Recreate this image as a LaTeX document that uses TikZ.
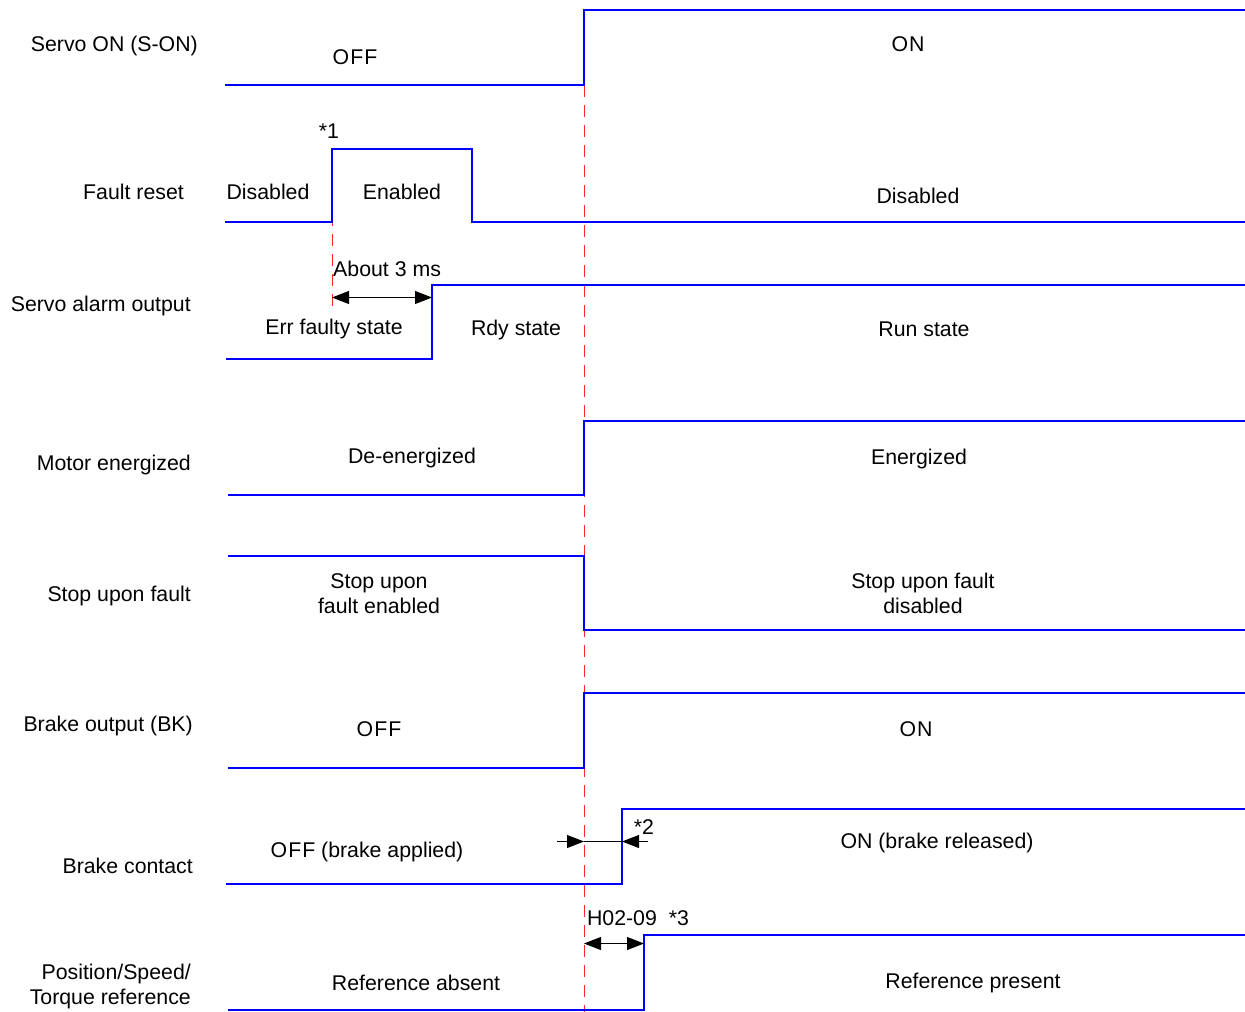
\documentclass[tikz,border=0pt]{standalone}
\usepackage{fontspec}
\setmainfont{Liberation Sans}
\usetikzlibrary{arrows.meta}
\definecolor{sig}{RGB}{0,0,255}
\definecolor{mark}{RGB}{255,40,40}
\begin{document}
\begin{tikzpicture}[x=1pt,y=-1pt,
  every node/.style={font=\fontsize{21.3}{25.5}\selectfont, inner sep=0pt, yshift=-0.5pt},
  wave/.style={draw=sig, line width=1.8pt, line join=miter},
  guide/.style={draw=mark, line width=0.9pt, dash pattern=on 12pt off 8pt},
  dim/.style={draw=black, line width=0.9pt},
  tip/.style={-{Triangle[length=17pt,width=13pt]}},
  tips/.style={{Triangle[length=17pt,width=13pt]}-{Triangle[length=17pt,width=13pt]}},
  lbl/.style={anchor=east, align=right},
  txt/.style={align=center}]
\useasboundingbox (0,0) rectangle (1245,1012);

% guide lines
\draw[guide] (584,85) -- (584,1012);
\draw[guide] (332,214) -- (332,312);

% row labels
\node[lbl] (l1) at (198,45) {Servo ON (S-ON)};
\node[lbl] (l2) at (184,191) {Fault reset};
\node[lbl] (l3) at (191,305) {Servo alarm output};
\node[lbl] (l4) at (191,464) {Motor energized};
\node[lbl] (l5) at (191,595) {Stop upon fault};
\node[lbl] (l6) at (193,725) {Brake output (BK)};
\node[lbl] (l7) at (193,865) {Brake contact};
\node[lbl, align=right] (l8) at (191,986) {Position/Speed/\\Torque reference};

% 1 Servo ON
\draw[wave] (225,85) -- (584,85) -- (584,10) -- (1245,10);
\node[txt] (t1a) at (355,57) {O\kern1ptF\kern1ptF};
\node[txt] (t1b) at (908,44) {O\kern1ptN};

% 2 Fault reset
\draw[wave] (225,222) -- (332,222) -- (332,149) -- (472,149) -- (472,222) -- (1245,222);
\node[txt] (s1) at (329,131) {*1};
\node[txt] (t2a) at (268,191) {Disabled};
\node[txt] (t2b) at (402,191) {Enabled};
\node[txt] (t2c) at (918,195) {Disabled};

% 3 Servo alarm
\draw[wave] (226,359) -- (432,359) -- (432,285) -- (1245,285);
\node[anchor=west] (t3d) at (333,268) {About 3 ms};
\coordinate (a3l) at (332,297);
\coordinate (a3r) at (432,297);
\draw[dim, tips] (a3l) -- (a3r);
\node[txt] (t3a) at (334,328) {Err faulty state};
\node[txt] (t3b) at (516,329) {Rdy\ state};
\node[txt] (t3c) at (924,329) {Run state};

% 4 Motor energized
\draw[wave] (228,495) -- (584,495) -- (584,421) -- (1245,421);
\node[txt] (t4a) at (412,457) {De-energized};
\node[txt] (t4b) at (919,458) {Energized};

% 5 Stop upon fault
\draw[wave] (228,556) -- (584,556) -- (584,630) -- (1245,630);
\node[txt] (t5a) at (379,593) {Stop upon\\fault enabled};
\node[txt] (t5b) at (923,593) {Stop upon fault\\disabled};

% 6 Brake output
\draw[wave] (228,768) -- (584,768) -- (584,693) -- (1245,693);
\node[txt] (t6a) at (379,729) {O\kern1ptF\kern1ptF};
\node[txt] (t6b) at (916,729) {O\kern1ptN};

% 7 Brake contact
\draw[wave] (226,884) -- (622,884) -- (622,809) -- (1245,809);
\coordinate (b7l) at (557,841);
\coordinate (b7a) at (584,841);
\coordinate (b7b) at (622,841);
\coordinate (b7r) at (648,841);
\draw[dim] (b7a) -- (b7b);
\draw[dim, tip] (b7l) -- (b7a);
\draw[dim, tip] (b7r) -- (b7b);
\node[txt] (s2) at (644,827) {*2};
\node[txt] (t7a) at (367,851) {O\kern1ptF\kern1ptF (brake applied)};
\node[txt] (t7b) at (937,842) {ON (brake released)};

% 8 Reference
\draw[wave] (228,1010) -- (644,1010) -- (644,935) -- (1245,935);
\coordinate (c8l) at (584,943);
\coordinate (c8r) at (644,943);
\draw[dim, tips] (c8l) -- (c8r);
\node[txt] (t8d) at (622,918) {H02-09};
\node[txt] (s3) at (679,918) {*3};
\node[txt] (t8a) at (416,982) {Reference absent};
\node[txt] (t8b) at (973,982) {Reference present};
\end{tikzpicture}
\end{document}
